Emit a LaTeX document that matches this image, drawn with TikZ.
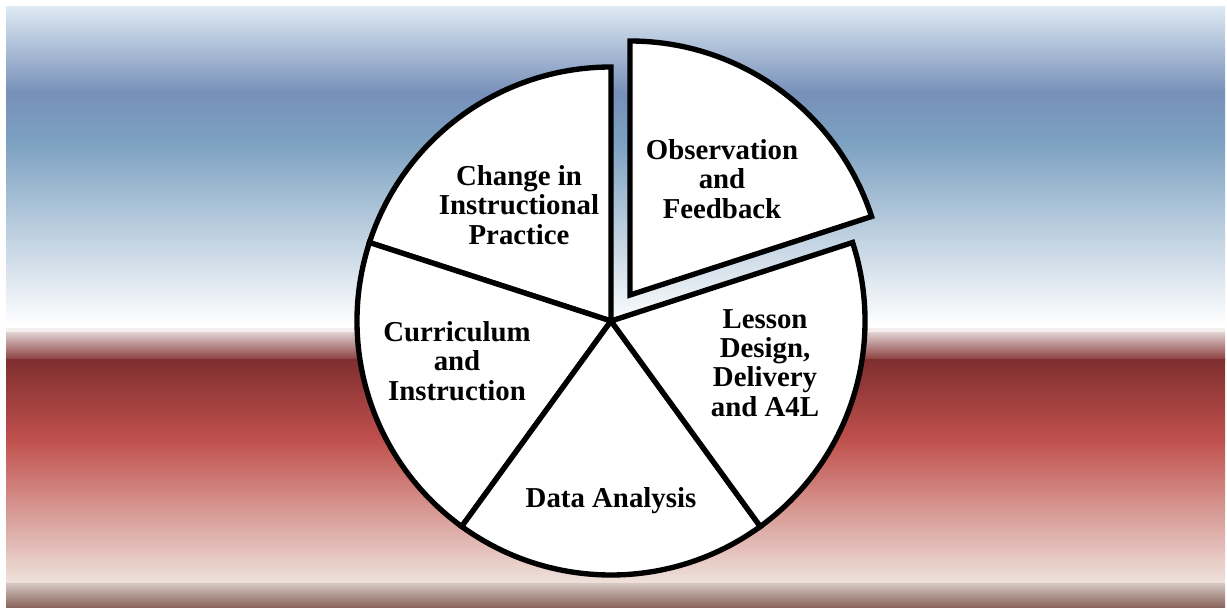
\documentclass[tikz,border=0pt]{standalone}
\usepackage{fontspec}
\setmainfont{Liberation Serif}
\definecolor{skytop}{HTML}{DDE9F3}
\definecolor{skydeep}{HTML}{7790B9}
\definecolor{skymid}{HTML}{7BA0C1}
\definecolor{blush}{HTML}{F4EEEE}
\definecolor{rosetop}{HTML}{DFCFCF}
\definecolor{rosedark}{HTML}{8A3B3B}
\definecolor{wine}{HTML}{7F2F2F}
\definecolor{brick}{HTML}{C0504D}
\definecolor{pale}{HTML}{EEDFD9}
\definecolor{mudtop}{HTML}{D4C5C0}
\definecolor{mud}{HTML}{8B665E}
\tikzset{
  slice/.style={draw=black, fill=white, line width=3.8pt},
  lbl/.style={align=center, font=\bfseries\fontsize{20.5}{20.8}\selectfont}
}

\begin{document}
\begin{tikzpicture}[x=0.025cm, y=0.025cm]
        \useasboundingbox (0,0) rectangle (1227,607);
        % background bands, top to bottom
        \shade [top color = skytop, bottom color = skydeep] (6,514) rectangle (1225,600);
        \shade [top color = skydeep, bottom color = skymid] (6,467) rectangle (1225,514.5);
        \shade [top color = skymid, bottom color = white] (6,281) rectangle (1225,467.5);
        \fill [white] (6,279) rectangle (1225,281.5);
        \fill [blush] (6,274) rectangle (1225,279.5);
        \shade [top color = rosetop, bottom color = rosedark] (6,247) rectangle (1225,274.5);
        \shade [top color = wine, bottom color = brick] (6,167) rectangle (1225,247.5);
        \shade [top color = brick, bottom color = pale] (6,27) rectangle (1225,167.5);
        \fill [pale] (6,23) rectangle (1225,27.5);
        \shade [top color = mudtop, bottom color = mud] (6,0) rectangle (1225,23.5);
        % pie
        \coordinate (ctr) at (611,286);
        \foreach \a in {90,162,234,306}{
          \draw [slice] (ctr) -- ++(\a:254) arc [start angle=\a, delta angle=72, radius=254] -- cycle;
        }
        \coordinate (ctrout) at (630,312);
        \draw [slice] (ctrout) -- ++(18:254) arc [start angle=18, delta angle=72, radius=254] -- cycle;
        % labels
        \node [lbl] (obs) at (722,428) {Observation\\and\\Feedback};
        \node [lbl] (change) at (519,402) {Change in\\Instructional\\Practice};
        \node [lbl] (curric) at (457,246) {Curriculum\\and\\Instruction};
        \node [lbl] (data) at (611,106) {Data Analysis};
        \node [lbl] (lesson) at (765,244) {Lesson\\Design,\\Delivery\\and A4L};
      \end{tikzpicture}
\end{document}
